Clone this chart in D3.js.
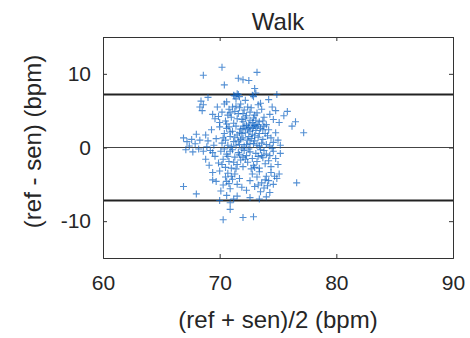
<!DOCTYPE html>
<html>
<head>
<meta charset="utf-8">
<script src="https://cdn.jsdelivr.net/npm/d3@7"></script>
<style>
  html, body { margin: 0; padding: 0; background: #fff; }
  svg { display: block; }
  text { font-family: "Liberation Sans", Arial, Helvetica, sans-serif; fill: #262626; }
</style>
</head>
<body>
<svg id="chart" width="470" height="338"></svg>
<script>
// Bland–Altman plot: mean of (ref, sen) vs. difference (ref - sen), walking trial
const title = "Walk";
const xLabel = "(ref + sen)/2 (bpm)";
const yLabel = "(ref - sen) (bpm)";
const xTicks = [60, 70, 80, 90];
const yTicks = [-10, 0, 10];
const xDomain = [60, 90];
const yDomain = [-15, 15];

// mean bias and limits of agreement
const meanDiff = 0;
const upperLoA = 7.2;
const lowerLoA = -7.2;

// paired samples: [mean HR, difference]
const highPoints = [
  [71.3,7.0],[71.5,7.3],[71.7,6.9],[71.4,6.6],[72.9,6.9],[73.1,7.4],[70.6,6.2],[72.2,6.4],
  [73.5,6.0],[74.9,7.2],[68.4,6.3],[68.6,5.8],[68.3,5.5],[69.0,6.8],[70.4,8.5],[72.0,9.2],
  [72.5,9.1],[71.6,9.4],[73.2,10.2],[70.2,10.9],[68.6,9.8],[73.0,8.0],[74.2,6.5],[71.2,7.1],
  [71.6,7.2],[72.8,7.1]
];
const upperPoints = [
  [69.4,4.5],[68.5,5.0],[69.8,5.5],[70.2,4.8],[70.5,3.6],[70.8,5.2],[71.0,4.1],[71.2,3.3],
  [71.4,5.6],[71.6,4.6],[71.9,3.8],[72.1,5.1],[72.3,4.3],[72.5,3.2],[72.7,5.4],[72.9,4.0],
  [73.0,3.0],[73.2,4.7],[73.4,3.5],[73.6,5.2],[73.8,4.1],[74.0,3.1],[74.3,4.5],[74.6,3.8],
  [74.8,5.0],[75.1,3.4],[70.0,3.4],[69.6,3.9],[70.7,4.4],[71.8,5.9],[72.6,4.8],[73.1,3.7],
  [73.3,5.8],[72.0,3.5],[71.3,4.9],[70.4,5.9],[74.5,5.5],[75.8,4.9],[76.2,2.9],[76.5,3.5],
  [77.2,2.0],[75.5,4.3],[71.1,5.5],[71.7,5.4],[72.4,5.5],[72.2,4.0],[72.8,3.4],[73.0,4.4],
  [73.3,3.1],[70.6,3.2],[71.5,3.9],[72.6,3.7],[73.7,3.6],[70.9,4.7],[69.9,4.2],[72.0,4.6]
];
const centerPoints = [
  [69.3,2.4],[69.7,1.2],[70.0,2.8],[70.2,0.6],[70.4,1.9],[70.6,2.6],[70.7,0.3],[70.9,1.5],
  [71.1,2.2],[71.2,0.8],[71.4,2.9],[71.5,1.7],[71.7,0.4],[71.8,2.5],[72.0,1.3],[72.1,0.2],
  [72.2,2.0],[72.4,1.0],[72.5,2.7],[72.6,0.5],[72.8,1.8],[72.9,2.9],[73.0,0.9],[73.1,2.3],
  [73.3,1.4],[73.4,0.2],[73.5,2.6],[73.7,1.1],[73.9,1.9],[74.0,0.4],[74.2,2.4],[74.4,1.3],
  [74.6,0.7],[74.8,2.0],[75.0,1.0],[75.2,0.3],[69.0,0.9],[68.8,1.7],[72.3,3.0],[71.9,1.9],
  [73.6,0.6],[71.0,0.1],[72.7,1.2],[70.5,1.0],[73.2,2.8],[72.0,2.6],[71.3,1.4],[74.1,1.6],
  [73.8,2.9],[70.8,2.8],[72.9,0.5],[71.6,0.9],[72.6,2.2],[73.0,1.6],[72.3,0.4],[71.8,1.1],
  [72.8,2.6],[73.4,1.9],[72.1,2.9],[71.4,0.3],[70.9,2.1],[73.2,0.3],[72.5,1.5],[71.7,2.0],
  [74.3,0.2],[73.7,2.4],[70.3,1.3],[72.4,2.4],
  [66.9,1.3],[67.2,0.8],[67.4,0.2],[67.7,-0.6],[67.9,0.5],[68.2,-0.2],[68.3,1.0],[67.1,-0.3],
  [68.6,-0.5],[68.0,1.8],[67.6,1.1],[68.9,0.1],[69.2,-0.4],[69.5,0.3]
];
const lowerPoints = [
  [69.6,-1.2],[69.9,-2.1],[70.1,-0.5],[70.3,-1.6],[70.5,-2.7],[70.6,-0.9],[70.8,-1.9],[71.0,-2.8],
  [71.1,-0.3],[71.3,-1.3],[71.5,-2.3],[71.6,-0.7],[71.8,-1.7],[72.0,-2.6],[72.1,-0.4],[72.3,-1.1],
  [72.4,-2.0],[72.6,-0.6],[72.8,-1.5],[72.9,-2.4],[73.1,-0.8],[73.2,-1.9],[73.4,-2.8],[73.5,-0.3],
  [73.7,-1.4],[73.9,-2.2],[74.0,-0.9],[74.2,-1.8],[74.4,-2.6],[74.6,-0.5],[74.8,-1.5],[75.0,-2.3],
  [75.2,-0.8],[70.2,-2.3],[70.4,-0.2],[71.9,-0.2],[73.0,-2.7],[74.5,-0.1],[71.4,-2.9],[72.7,-2.9],
  [73.6,-1.1],[69.4,-0.7],[68.8,-1.6],[69.1,-2.4],[70.7,-1.2],[71.2,-2.0],[71.7,-1.0],[72.2,-1.6],
  [72.5,-0.2],[73.3,-1.2],[73.8,-0.4],[74.3,-1.1],[70.9,-0.5],[72.0,-1.3],
  [69.4,-3.4],[69.7,-4.6],[70.0,-3.2],[70.3,-5.1],[70.5,-4.0],[70.7,-3.5],[70.9,-5.6],[71.1,-4.3],
  [71.3,-3.6],[71.5,-5.0],[71.7,-4.2],[72.6,-4.5],[72.8,-3.6],[73.0,-5.3],[73.2,-4.0],[73.4,-3.3],
  [73.6,-4.8],[73.8,-5.5],[74.0,-3.9],[74.2,-4.5],[74.4,-3.4],[74.6,-5.0],[74.9,-4.2],[75.1,-3.6],
  [71.9,-5.4],[72.3,-5.8],[73.5,-6.0],[70.1,-5.9],[69.4,-4.4],[68.0,-6.3],[66.9,-5.3],[76.6,-4.8],
  [74.3,-6.1],[70.6,-4.6],[71.0,-3.9],[73.9,-4.4],[74.7,-3.9],[73.3,-5.1],[70.8,-4.9],[74.1,-5.2]
];
const lowPoints = [
  [70.0,-7.2],[70.9,-7.5],[70.9,-8.4],[71.5,-6.6],[72.6,-6.8],[73.4,-7.0],[70.6,-6.5],[74.0,-6.7],
  [70.3,-9.8],[72.0,-9.5],[72.9,-9.4],[71.2,-7.0]
];
const samples = [...highPoints, ...upperPoints, ...centerPoints, ...lowerPoints, ...lowPoints];

const svg = d3.select("#chart");
const margin = { left: 103, right: 17, top: 37, bottom: 80 };
const W = 470, H = 338;
const innerW = W - margin.left - margin.right;
const innerH = H - margin.top - margin.bottom;

const x = d3.scaleLinear().domain(xDomain).range([margin.left, margin.left + innerW]);
const y = d3.scaleLinear().domain(yDomain).range([margin.top + innerH, margin.top]);

const tickFont = 21, labelFont = 24;

// reference lines (bias and limits of agreement)
svg.append("line")
  .attr("x1", x(xDomain[0])).attr("x2", x(xDomain[1]))
  .attr("y1", y(meanDiff)).attr("y2", y(meanDiff))
  .attr("stroke", "#444").attr("stroke-width", 1.2);
[upperLoA, lowerLoA].forEach(v => {
  svg.append("line")
    .attr("x1", x(xDomain[0])).attr("x2", x(xDomain[1]))
    .attr("y1", y(v)).attr("y2", y(v))
    .attr("stroke", "#222").attr("stroke-width", 2);
});

// '+' markers
const arm = 3.5;
const marks = svg.append("g")
  .attr("stroke", "#0a5fc0").attr("stroke-opacity", 0.7).attr("stroke-width", 1.1);
marks.selectAll("path").data(samples).join("path")
  .attr("d", d => {
    const cx = x(d[0]), cy = y(d[1]);
    return `M${cx - arm},${cy}H${cx + arm}M${cx},${cy - arm}V${cy + arm}`;
  });

// axes (ticks inward on all four sides, box outline)
const tickLen = 4;
const fmt = d => String(d);
const bottomAxis = d3.axisBottom(x).tickValues(xTicks).tickSize(-tickLen).tickPadding(17).tickFormat(fmt);
const topAxis = d3.axisTop(x).tickValues(xTicks).tickSize(-tickLen).tickFormat("");
const leftAxis = d3.axisLeft(y).tickValues(yTicks).tickSize(-tickLen).tickPadding(12).tickFormat(fmt);
const rightAxis = d3.axisRight(y).tickValues(yTicks).tickSize(-tickLen).tickFormat("");

function style(g) {
  g.select(".domain").attr("stroke", "#333").attr("stroke-width", 1);
  g.selectAll(".tick line").attr("stroke", "#333");
  g.selectAll(".tick text").attr("font-size", tickFont).attr("fill", "#262626")
    .style("font-family", '"Liberation Sans", Arial, sans-serif');
}
svg.append("g").attr("transform", `translate(0,${margin.top + innerH})`).call(bottomAxis).call(style);
svg.append("g").attr("transform", `translate(0,${margin.top})`).call(topAxis).call(style);
svg.append("g").attr("transform", `translate(${margin.left},0)`).call(leftAxis).call(style);
svg.append("g").attr("transform", `translate(${margin.left + innerW},0)`).call(rightAxis).call(style);

// titles
svg.append("text")
  .attr("x", x(75)).attr("y", 30)
  .attr("text-anchor", "middle").attr("font-size", labelFont)
  .text(title);
svg.append("text")
  .attr("x", x(75)).attr("y", 328)
  .attr("text-anchor", "middle").attr("font-size", labelFont)
  .text(xLabel);
svg.append("text")
  .attr("transform", `translate(41,${y(0) - 6}) rotate(-90)`)
  .attr("text-anchor", "middle").attr("font-size", labelFont)
  .text(yLabel);
</script>
</body>
</html>
